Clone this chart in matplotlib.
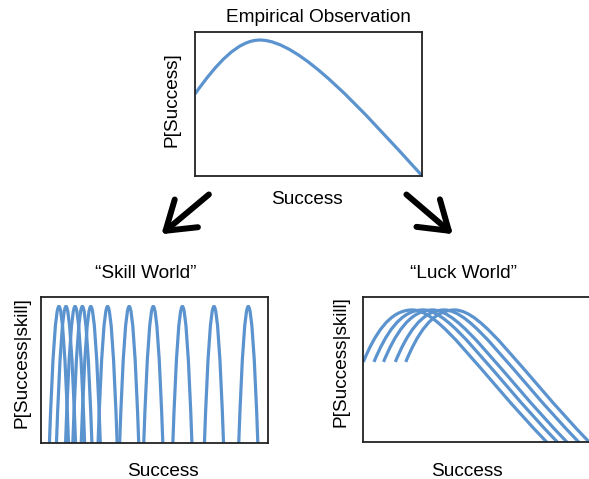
import matplotlib
matplotlib.use("Agg")
from matplotlib import pyplot as plt
from matplotlib.path import Path
from matplotlib.patches import PathPatch, FancyArrowPatch

plt.rcParams['font.family'] = ['Liberation Sans', 'DejaVu Sans']

# figure size in pixels
W, H = 589, 479

# empirical curve: start, two control pts, peak, two control pts, end (0-100 units)
emp_x = [0, 9.7, 18.9, 28.6, 46.3, 73.6, 100]
emp_y = [57.0, 78.6, 94.6, 94.6, 94.6, 45.8, 0]

# skill world: peak positions of each narrow arch
skill_peaks = [7.9, 11.0, 15.0, 18.2, 21.9, 29.3, 38.8, 49.4, 62.2, 76.1, 91.2]
skill_halfwidth = 4.2
skill_height = 93.7

# luck world: one base curve, shifted copies
luck_x = [0, 5.0, 11.5, 21.5, 34.0, 50.0, 80.9]
luck_y = [55.2, 74.0, 90.9, 90.9, 90.9, 50.0, 0]
luck_shifts = [0, 4.7, 8.9, 14.1, 18.7]

blue = '#5b93cf'
lw = 2.3

fig = plt.figure(figsize=(W / 100, H / 100), dpi=100)


def px_axes(left, right, top, bottom):
    ax = fig.add_axes([left / W, 1 - bottom / H, (right - left) / W, (bottom - top) / H])
    ax.set_xlim(0, 100)
    ax.set_ylim(0, 100)
    ax.set_xticks([])
    ax.set_yticks([])
    for s in ax.spines.values():
        s.set_linewidth(1.3)
        s.set_color('#222222')
    return ax


def cubic(ax, xs, ys, dx=0):
    verts = [(x + dx, y) for x, y in zip(xs, ys)]
    codes = [Path.MOVETO] + [Path.CURVE4] * (len(verts) - 1)
    ax.add_patch(PathPatch(Path(verts, codes), fill=False, ec=blue, lw=lw))


def ftext(x, y, s, **kw):
    fig.text(x / W, 1 - y / H, s, ha='center', va='center', fontsize=13.7, **kw)


# top panel
ax0 = px_axes(195, 422, 32.3, 175.7)
cubic(ax0, emp_x, emp_y)
ftext(318, 17, 'Empirical Observation')
ftext(307, 200, 'Success')
ftext(171.5, 100, 'P[Success]', rotation=90)

# skill world
ax1 = px_axes(41, 268.3, 297.3, 443.3)
for c in skill_peaks:
    verts = [(c - skill_halfwidth, 0), (c, 2 * skill_height), (c + skill_halfwidth, 0)]
    codes = [Path.MOVETO, Path.CURVE3, Path.CURVE3]
    ax1.add_patch(PathPatch(Path(verts, codes), fill=False, ec=blue, lw=lw))
ftext(146, 273, '\u201cSkill World\u201d')
ftext(162.5, 472, 'Success')
ftext(22.5, 363, 'P[Success|skill]', rotation=90)

# luck world
ax2 = px_axes(363.3, 590.3, 296.7, 442.3)
for d in luck_shifts:
    cubic(ax2, luck_x, luck_y, dx=d)
ftext(463, 273, '\u201cLuck World\u201d')
ftext(466.7, 472, 'Success')
ftext(341, 362, 'P[Success|skill]', rotation=90)

# arrows
for (x0, y0), (x1, y1) in [((211, 192.7), (159.3, 236)), ((404.3, 192.7), (455, 236))]:
    arr = FancyArrowPatch((x0 / W, 1 - y0 / H), (x1 / W, 1 - y1 / H),
                          transform=fig.transFigure,
                          arrowstyle='->,head_length=0.75,head_width=0.5',
                          mutation_scale=26, lw=4.3, color='black')
    fig.add_artist(arr)

fig.savefig('out.png', dpi=100)
